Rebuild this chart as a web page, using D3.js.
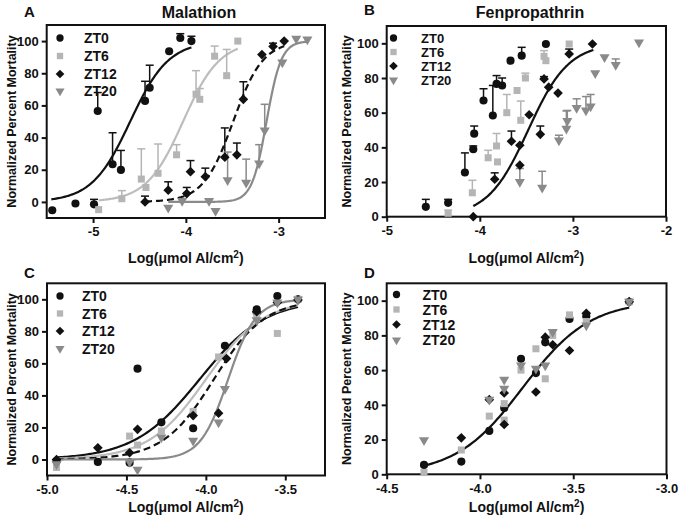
<!DOCTYPE html>
<html><head><meta charset="utf-8">
<script src="https://cdn.jsdelivr.net/npm/d3@7"></script>
<style>
body{margin:0;background:#fff}
svg{display:block}
text{font-family:"Liberation Sans",Arial,Helvetica,sans-serif;font-weight:bold;fill:#111}
</style>
</head><body>
<svg id="chart" width="681" height="528"></svg>
<script>
// ---------------- DATA ----------------
const seriesNames = ["ZT0", "ZT6", "ZT12", "ZT20"];
const yTicks = [0, 20, 40, 60, 80, 100];

// Panel A: Malathion  [logDose, mortality, errorTop]
const malathionZT0 = [[-5.44,-5.2,null],[-5.19,-1,null],[-4.99,-1.5,1.6],[-4.95,56.5,68],[-4.79,23.4,43],[-4.70,19.9,32],[-4.44,62.8,75],[-4.39,71,85],[-4.18,93.7,null],[-4.06,101.9,104.6],[-3.94,100,103]];
const malathionZT6 = [[-4.94,-4.8,null],[-4.69,2,7],[-4.48,14.2,33],[-4.43,9,null],[-4.30,17.8,36],[-4.10,29.3,35.6],[-3.89,67,81.6],[-3.85,63.8,70.5],[-3.69,90.6,96.9],[-3.56,78.5,94.8],[-3.44,100,null]];
const malathionZT12 = [[-4.44,0,3.6],[-4.19,7.3,12.5],[-3.99,5.2,9],[-3.95,18.8,25.7],[-3.79,15.7,21],[-3.58,27.8,46],[-3.45,29.3,36.6],[-3.38,63.8,74.7],[-3.18,91.6,null],[-3.06,96.7,98.7],[-2.94,100,null]];
const malathionZT20 = [[-4.19,-3.5,null],[-4.04,0.6,null],[-3.75,0.6,1.6],[-3.68,-5.6,null],[-3.55,13.6,31],[-3.35,12,26.6],[-3.21,24,35.6],[-3.15,44.4,60.7],[-2.96,86.8,null],[-2.81,101.5,null],[-2.69,101,null]];
const malathionEC50 = [-4.60, -4.03, -3.49, -3.13];
const malathionHill = [2.1, 2.2, 2.7, 5.5];
const malathionFitFrom = [-5.45, -4.94, -4.44, -4.19];
const malathionFitTo = [-3.94, -3.44, -2.94, -2.69];

// Panel B: Fenpropathrin
const fenpropathrinZT0 = [[-4.58,5.7,10],[-4.34,8,10],[-4.16,25.5,36.8],[-4.07,38.9,40.8],[-4.06,47.9,52.3],[-3.96,67,73.8],[-3.86,58.4,75.7],[-3.82,76.6,81.4],[-3.76,75.7,80],[-3.67,90,null],[-3.55,92.9,97.7],[-3.29,99.6,null]];
const fenpropathrinZT6 = [[-4.34,2,3.8],[-4.08,13.8,21],[-3.91,34,38.3],[-3.82,40.8,48],[-3.81,31.6,null],[-3.71,60,70.5],[-3.60,72.8,null],[-3.56,55.6,66.7],[-3.51,80,82.8],[-3.31,92.5,95.8],[-3.29,90,null],[-3.04,99.6,null]];
const fenpropathrinZT12 = [[-4.07,0,null],[-3.84,21.6,25.3],[-3.66,43.5,49.4],[-3.57,29.7,null],[-3.57,41.2,null],[-3.47,58.8,null],[-3.35,47.5,52.3],[-3.31,79.5,80.8],[-3.26,74.7,null],[-3.16,71.3,null],[-3.04,93.9,96.7],[-2.79,99.6,null]];
const fenpropathrinZT20 = [[-3.57,20,27.8],[-3.33,16.7,26.2],[-3.15,44,47],[-3.07,50.8,61],[-3.06,55.2,61.3],[-2.96,62.8,68],[-2.86,61.3,69.3],[-2.81,63.6,70.5],[-2.76,82.8,null],[-2.66,92,null],[-2.54,87.5,91],[-2.29,100.6,null]];
const fenpropathrinEC50 = [-3.48];
const fenpropathrinHill = [2.0];
const fenpropathrinFitFrom = [-4.07];
const fenpropathrinFitTo = [-2.78];

// Panel C
const panelCZT0 = [[-4.94,-1,null],[-4.68,-1.5,null],[-4.48,-2,null],[-4.43,56.7,null],[-4.28,23.2,null],[-4.08,19.5,null],[-3.88,71,null],[-3.68,93.7,null],[-3.68,92,null],[-3.55,102,null],[-3.42,100,null]];
const panelCZT6 = [[-4.94,-5,null],[-4.48,14.6,null],[-4.43,9,null],[-4.28,17.8,null],[-4.08,30,null],[-3.92,64,null],[-3.68,90,null],[-3.55,78.7,null],[-3.42,100,null]];
const panelCZT12 = [[-4.94,0,null],[-4.68,7.3,null],[-4.48,4.2,null],[-4.43,18.8,null],[-4.08,27.4,null],[-3.92,28.9,null],[-3.87,63,null],[-3.68,92.3,null],[-3.55,98,null],[-3.42,99.6,null]];
const panelCZT20 = [[-4.94,-3,null],[-4.48,-1.5,null],[-4.43,-6.3,null],[-4.28,13.8,null],[-4.08,11.7,null],[-3.92,23.2,null],[-3.88,44,null],[-3.68,87,null],[-3.55,98,null],[-3.42,100,null]];
const panelCEC50 = [-4.04, -4.00, -3.95, -3.86];
const panelCHill = [2.1, 2.4, 2.7, 5.0];
const panelCFitFrom = [-4.94, -4.94, -4.94, -4.94];
const panelCFitTo = [-3.42, -3.42, -3.42, -3.42];

// Panel D
const panelDZT0 = [[-4.30,5.4,null],[-4.10,7.3,null],[-3.95,25,null],[-3.87,38.2,null],[-3.78,66.5,null],[-3.70,58.3,null],[-3.65,76,null],[-3.52,89.5,null],[-3.43,91,null],[-3.20,99.4,null]];
const panelDZT6 = [[-4.30,1,null],[-4.10,14,null],[-3.95,33.5,null],[-3.87,40.7,null],[-3.87,31.2,null],[-3.78,60,null],[-3.70,72.3,null],[-3.65,55,null],[-3.61,80,null],[-3.52,91.8,null],[-3.43,88,null],[-3.20,99.4,null]];
const panelDZT12 = [[-4.10,21,null],[-3.95,43,null],[-3.87,28.7,null],[-3.87,46.8,null],[-3.70,47.4,null],[-3.65,79,null],[-3.61,74.6,null],[-3.52,71.3,null],[-3.43,92.7,null],[-3.20,99.4,null]];
const panelDZT20 = [[-4.30,19.7,null],[-3.95,43,null],[-3.87,49.3,null],[-3.87,54.5,null],[-3.78,62.7,null],[-3.70,60.8,null],[-3.65,62.7,null],[-3.61,82,null],[-3.43,85.7,null],[-3.20,99.4,null]];
const panelDEC50 = [-3.77];
const panelDHill = [2.42];
const panelDFitFrom = [-4.30];
const panelDFitTo = [-3.20];

// ---------------- STYLE / LAYOUT ----------------
const markColor = ["#111111", "#b5b5b5", "#111111", "#8a8a8a"];
const curveColor = ["#111111", "#bdbdbd", "#111111", "#8a8a8a"];
const curveDash = [null, null, "7,4", null];

const panels = [
  {letter:"A", lx:24, ly:17, title:"Malathion", tx:199, ty:18,
   x0:46.7, x1:325, y0:25, y1:218, xdom:[-5.5,-2.5], ydom:[-10,110], xticks:[-5,-4,-3], xfmt:d3.format("d"),
   ytitleX:12, xtitleY:263,
   series:[malathionZT0, malathionZT6, malathionZT12, malathionZT20],
   fits:{ec:malathionEC50, h:malathionHill, from:malathionFitFrom, to:malathionFitTo, style:[0,1,2,3]},
   legend:{sx:60, tx:84, rows:[38,56,74,91], fs:14}},
  {letter:"B", lx:364, ly:15, title:"Fenpropathrin", tx:530, ty:18,
   x0:386.7, x1:666, y0:26, y1:216.7, xdom:[-5,-2], ydom:[0,110], xticks:[-5,-4,-3,-2], xfmt:d3.format("d"),
   ytitleX:347, xtitleY:263,
   series:[fenpropathrinZT0, fenpropathrinZT6, fenpropathrinZT12, fenpropathrinZT20],
   fits:{ec:fenpropathrinEC50, h:fenpropathrinHill, from:fenpropathrinFitFrom, to:fenpropathrinFitTo, style:[0]},
   legend:{sx:393.5, tx:421, rows:[38,52,66,80], fs:13}},
  {letter:"C", lx:24, ly:278, title:null,
   x0:47, x1:325, y0:283.3, y1:475.5, xdom:[-5.0,-3.25], ydom:[-10,110], xticks:[-5.0,-4.5,-4.0,-3.5], xfmt:d3.format(".1f"),
   ytitleX:12, xtitleY:512,
   series:[panelCZT0, panelCZT6, panelCZT12, panelCZT20],
   fits:{ec:panelCEC50, h:panelCHill, from:panelCFitFrom, to:panelCFitTo, style:[0,1,2,3]},
   legend:{sx:60, tx:82, rows:[296,313.5,331,348.5], fs:14}},
  {letter:"D", lx:364, ly:278, title:null,
   x0:386.7, x1:666.5, y0:283.3, y1:474.3, xdom:[-4.5,-3.0], ydom:[0,110], xticks:[-4.5,-4.0,-3.5,-3.0], xfmt:d3.format(".1f"),
   ytitleX:347, xtitleY:512,
   series:[panelDZT0, panelDZT6, panelDZT12, panelDZT20],
   fits:{ec:panelDEC50, h:panelDHill, from:panelDFitFrom, to:panelDFitTo, style:[0]},
   legend:{sx:396.5, tx:422.5, rows:[294.5,309.5,324.5,340], fs:14}}
];

const svg = d3.select("#chart");
const hyphen = s => String(s).replace("\u2212", "-");

function symbolPath(i, size) {
  if (i === 0) return d3.symbol(d3.symbolCircle, size * 1.0)();
  if (i === 1) return d3.symbol(d3.symbolSquare, size * 0.95)();
  if (i === 2) return d3.symbol(d3.symbolSquare, size * 0.9)();
  return d3.symbol(d3.symbolTriangle, size * 0.85)();
}
function symbolTransform(i, x, y) {
  if (i === 2) return `translate(${x},${y}) rotate(45)`;
  if (i === 3) return `translate(${x},${y}) rotate(180)`;
  return `translate(${x},${y})`;
}

panels.forEach(p => {
  const g = svg.append("g");
  const x = d3.scaleLinear().domain(p.xdom).range([p.x0, p.x1]);
  const y = d3.scaleLinear().domain(p.ydom).range([p.y1, p.y0]);

  // axes
  const xa = g.append("g").attr("transform", `translate(0,${p.y1})`)
    .call(d3.axisBottom(x).tickValues(p.xticks).tickSize(5).tickSizeOuter(0).tickPadding(4)
      .tickFormat(d => hyphen(p.xfmt(d))));
  const ya = g.append("g").attr("transform", `translate(${p.x0},0)`)
    .call(d3.axisLeft(y).tickValues(yTicks).tickSize(5).tickSizeOuter(0).tickPadding(3));
  [xa, ya].forEach(a => {
    a.select(".domain").remove();
    a.selectAll(".tick line").attr("stroke", "#111").attr("stroke-width", 2);
    a.selectAll(".tick text").attr("font-size", 13).attr("font-weight", "bold")
      .attr("font-family", '"Liberation Sans",Arial,sans-serif').attr("fill", "#111");
  });

  // frame
  g.append("rect").attr("x", p.x0).attr("y", p.y0)
    .attr("width", p.x1 - p.x0).attr("height", p.y1 - p.y0)
    .attr("fill", "none").attr("stroke", "#111").attr("stroke-width", 2);

  // fitted curves
  const line = d3.line().x(d => x(d[0])).y(d => y(d[1]));
  p.fits.ec.forEach((ec, k) => {
    const from = p.fits.from[k], to = p.fits.to[k], h = p.fits.h[k];
    const pts = d3.range(0, 121).map(j => {
      const xv = from + (to - from) * j / 120;
      return [xv, 100 / (1 + Math.pow(10, (ec - xv) * h))];
    });
    const s = p.fits.style[k];
    g.append("path").attr("d", line(pts)).attr("fill", "none")
      .attr("stroke", curveColor[s]).attr("stroke-width", 2.2)
      .attr("stroke-dasharray", curveDash[s]);
  });

  // error bars
  p.series.forEach((ser, i) => {
    ser.filter(d => d[2] != null).forEach(d => {
      const cx = x(d[0]), y1 = y(d[1]), y2 = y(d[2]);
      g.append("line").attr("x1", cx).attr("x2", cx).attr("y1", y1).attr("y2", y2)
        .attr("stroke", markColor[i]).attr("stroke-width", 1.5);
      g.append("line").attr("x1", cx - 4).attr("x2", cx + 4).attr("y1", y2).attr("y2", y2)
        .attr("stroke", markColor[i]).attr("stroke-width", 1.5);
    });
  });

  // points
  p.series.forEach((ser, i) => {
    g.selectAll(null).data(ser).enter().append("path")
      .attr("d", symbolPath(i, 52))
      .attr("transform", d => symbolTransform(i, x(d[0]), y(d[1])))
      .attr("fill", markColor[i]);
  });

  // legend
  seriesNames.forEach((name, i) => {
    const ry = p.legend.rows[i];
    g.append("path").attr("d", symbolPath(i, 42))
      .attr("transform", symbolTransform(i, p.legend.sx, ry)).attr("fill", markColor[i]);
    g.append("text").attr("x", p.legend.tx).attr("y", ry + 5)
      .attr("font-size", p.legend.fs).text(name);
  });

  // y title
  g.append("text").attr("transform", `translate(${p.ytitleX},${(p.y0 + p.y1) / 2}) rotate(-90)`)
    .attr("text-anchor", "middle").attr("dominant-baseline", "central")
    .attr("font-size", 12.5).text("Normalized Percent Mortality");

  // x title
  const xt = g.append("text").attr("x", (p.x0 + p.x1) / 2).attr("y", p.xtitleY)
    .attr("text-anchor", "middle").attr("font-size", 14);
  xt.append("tspan").text("Log(\u03BCmol Al/cm");
  xt.append("tspan").attr("dy", -5).attr("font-size", 10).text("2");
  xt.append("tspan").attr("dy", 5).text(")");

  // panel letter and title
  g.append("text").attr("x", p.lx).attr("y", p.ly).attr("font-size", 15).text(p.letter);
  if (p.title) g.append("text").attr("x", p.tx).attr("y", p.ty).attr("text-anchor", "middle")
    .attr("font-size", 16).text(p.title);
});
</script>
</body></html>
